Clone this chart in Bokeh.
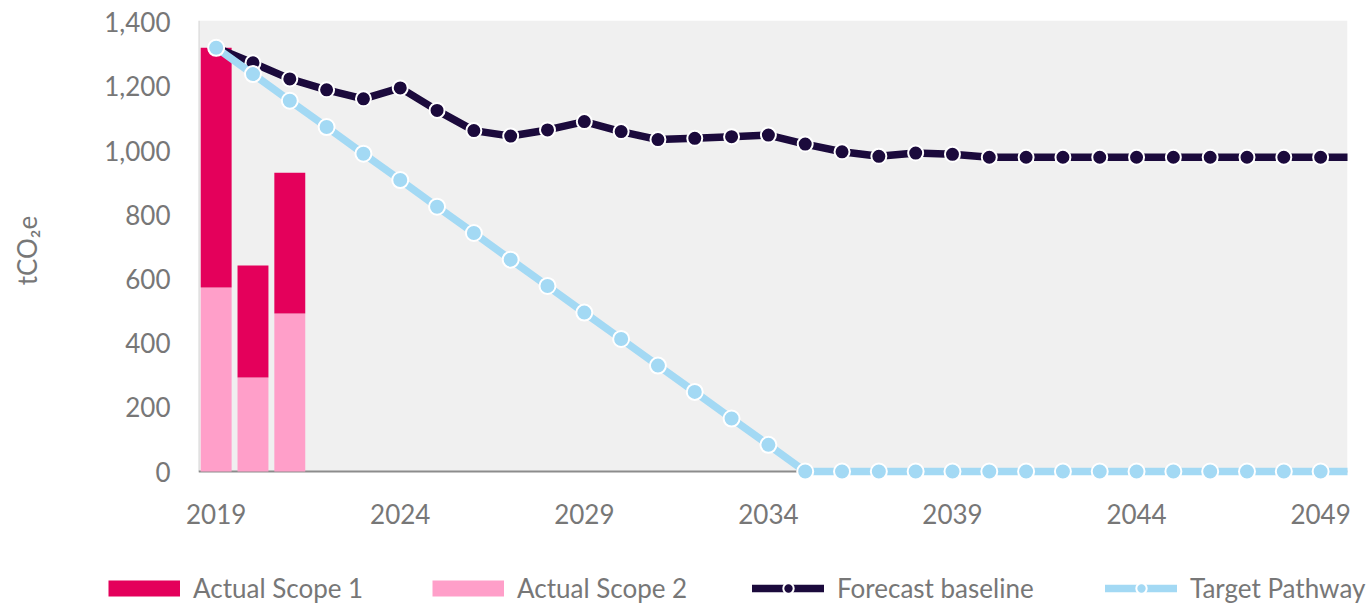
from bokeh.plotting import figure
from bokeh.layouts import column
from bokeh.models import (ColumnDataSource, Range1d, FixedTicker, NumeralTickFormatter,
                          Span, BoxAnnotation, Legend, LegendItem)
from bokeh.embed import file_html
from bokeh.resources import INLINE

# ---- data ----
years = list(range(2019, 2051))
bar_years = [2019, 2020, 2021]
scope1 = [747, 349, 439]
scope2 = [573, 293, 492]
forecast = [1320, 1273, 1223, 1189, 1161, 1195, 1125, 1062, 1045, 1064, 1090,
            1059, 1034, 1038, 1043, 1048, 1020, 996, 982, 992, 988,
            979, 979, 979, 979, 979, 979, 979, 979, 979, 979, 979]
target = [1320, 1238, 1155, 1073, 990, 908, 825, 743, 660, 578, 495, 413, 330,
          248, 165, 83, 0, 0, 0, 0, 0, 0, 0, 0, 0, 0, 0, 0, 0, 0, 0, 0]
x_ticks = [2019, 2024, 2029, 2034, 2039, 2044, 2049]
y_ticks = [0, 200, 400, 600, 800, 1000, 1200, 1400]
legend_labels = ["Actual Scope 1", "Actual Scope 2", "Forecast baseline", "Target Pathway"]

C_S1 = "#E4005B"
C_S2 = "#FF9FC9"
C_FC = "#1B0A3C"
C_TG = "#A3D9F4"
C_TXT = "#777777"
C_AX = "#8C8C8C"
FONT = "Lato"
FS = "26px"

X0, X1 = 2018.52, 2049.73

p = figure(width=1371, height=560, output_backend="svg", toolbar_location=None,
           x_range=Range1d(X0, X1), y_range=Range1d(-28, 1405),
           min_border_left=198, min_border_right=24, min_border_top=20,
           min_border_bottom=80)
p.outline_line_color = None
p.grid.visible = False
p.background_fill_color = "white"
p.frame_align = False

# plot area background from 0 upward
p.add_layout(BoxAnnotation(bottom=0, fill_color="#F0F0F0", fill_alpha=1,
                           line_color=None, level="underlay"))
# axis lines
p.add_layout(Span(location=0, dimension="width", line_color=C_AX, line_width=2,
                  level="underlay"))
p.add_layout(BoxAnnotation(right=X0, bottom=0, fill_color=None, fill_alpha=0,
                           line_color=C_AX, line_width=2, level="underlay"))

bar_src = ColumnDataSource(dict(year=bar_years, scope1=scope1, scope2=scope2))
bars = p.vbar_stack(["scope2", "scope1"], x="year", width=0.84, source=bar_src,
                    color=[C_S2, C_S1], line_color=None)

src = ColumnDataSource(dict(year=years, forecast=forecast, target=target))
p.line("year", "forecast", source=src, line_color=C_FC, line_width=7.5,
       line_cap="round", line_join="round")
p.scatter("year", "forecast", source=src, size=15, fill_color=C_FC,
          line_color="white", line_width=2)
p.line("year", "target", source=src, line_color=C_TG, line_width=7.5,
       line_cap="round", line_join="round")
p.scatter("year", "target", source=src, size=16, fill_color=C_TG,
          line_color="white", line_width=2)

# axes
for ax in (p.xaxis[0], p.yaxis[0]):
    ax.axis_line_color = None
    ax.major_tick_line_color = None
    ax.minor_tick_line_color = None
    ax.major_tick_in = 0
    ax.major_tick_out = 0
    ax.major_label_text_font = FONT
    ax.major_label_text_font_size = FS
    ax.major_label_text_color = C_TXT

p.xaxis.ticker = FixedTicker(ticks=x_ticks)
p.xaxis.major_label_standoff = 23
p.yaxis.ticker = FixedTicker(ticks=y_ticks)
p.yaxis.formatter = NumeralTickFormatter(format="0,0")
p.yaxis.major_label_standoff = 28
p.yaxis.axis_label = "tCO₂e"
p.yaxis.axis_label_text_font = FONT
p.yaxis.axis_label_text_font_size = FS
p.yaxis.axis_label_text_font_style = "normal"
p.yaxis.axis_label_text_color = C_TXT
p.yaxis.axis_label_standoff = 58

# ---- legend strip (its renderers fall outside its ranges; only the legend shows) ----
lf = figure(width=1371, height=44, output_backend="svg", toolbar_location=None,
            x_range=Range1d(0, 1), y_range=Range1d(0, 1),
            x_axis_location=None, y_axis_location=None,
            min_border=0, min_border_left=0, min_border_right=0,
            min_border_top=0, min_border_bottom=0)
lf.outline_line_color = None
lf.grid.visible = False
lf.frame_align = False

r1 = lf.line("year", "scope1", source=bar_src, line_color=C_S1, line_width=16, line_cap="butt")
r2 = lf.line("year", "scope2", source=bar_src, line_color=C_S2, line_width=16, line_cap="butt")
r3a = lf.line("year", "forecast", source=src, line_color=C_FC, line_width=7.5, line_cap="round")
r3b = lf.scatter("year", "forecast", source=src, size=15, fill_color=C_FC,
                 line_color="white", line_width=2)
r4a = lf.line("year", "target", source=src, line_color=C_TG, line_width=7.5, line_cap="round")
r4b = lf.scatter("year", "target", source=src, size=16, fill_color=C_TG,
                 line_color="white", line_width=2)

groups = [[r1], [r2], [r3a, r3b], [r4a, r4b]]
xpos = [108, 432, 752, 1105]
for lab, rs, xp in zip(legend_labels, groups, xpos):
    lg = Legend(items=[LegendItem(label=lab, renderers=rs)], location=(xp, 0),
                orientation="horizontal", padding=0, margin=0,
                border_line_color=None, background_fill_alpha=0,
                label_text_font=FONT, label_text_font_size=FS,
                label_text_color=C_TXT, label_standoff=13,
                glyph_width=72, glyph_height=26)
    lf.add_layout(lg)

open("out.html", "w").write(file_html(column(p, lf, spacing=0), INLINE))
